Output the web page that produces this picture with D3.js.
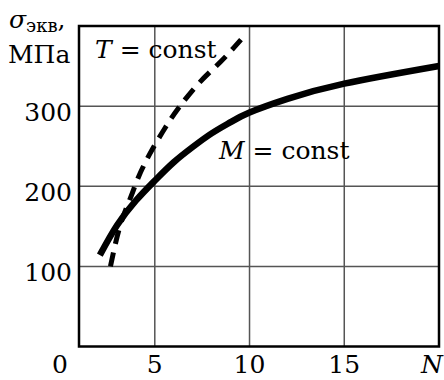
<!DOCTYPE html>
<html>
<head>
<meta charset="utf-8">
<script src="https://cdn.jsdelivr.net/npm/d3@7"></script>
<style>
  body { margin: 0; background: #fff; }
</style>
</head>
<body>
<div id="chart"></div>
<script>
// data
var xTicks = [5, 10, 15];
var yTicks = [100, 200, 300];
var mConstN = [2.1, 3, 4, 5, 6, 7, 8, 9, 10, 12, 15, 20];
var mConstS = [114, 151, 182, 207, 230, 249, 266, 280, 292, 309, 328, 350];
var tConstN = [2.66, 3.16, 3.69, 4.13, 4.75, 5.55, 6.3, 7.38, 8.5, 9.55];
var tConstS = [100, 150, 184, 211, 241, 273, 299, 330, 356, 383];

var serif = "'DejaVu Serif', serif";

drawChart();

function drawChart(){
    var width = 444, height = 380;
    var left = 79, right = 439, top = 26, bottom = 346.5;
    var fs = 25;

    var svg = d3.select("#chart").append("svg")
        .attr("width", width)
        .attr("height", height)
        .attr("font-family", serif);

    var x = d3.scaleLinear().domain([1, 20]).range([left, right]);
    var y = d3.scaleLinear().domain([0, 400]).range([bottom, top]);

    // grid
    var grid = svg.append("g");
    grid.selectAll(".vx")
        .data(xTicks)
        .enter().append("line")
        .attr("x1", d => x(d)).attr("x2", d => x(d))
        .attr("y1", top).attr("y2", bottom)
        .style("stroke", "#555").style("stroke-width", 1.5);
    grid.selectAll(".hy")
        .data(yTicks)
        .enter().append("line")
        .attr("x1", left).attr("x2", right)
        .attr("y1", d => y(d)).attr("y2", d => y(d))
        .style("stroke", "#555").style("stroke-width", 1.5);

    // curves
    var line = d3.line()
        .curve(d3.curveNatural)
        .x(d => x(d[0]))
        .y(d => y(d[1]));

    var mData = mConstN.map((n, i) => [n, mConstS[i]]);
    var tData = tConstN.map((n, i) => [n, tConstS[i]]);

    svg.append("path")
        .attr("d", line(mData))
        .style("fill", "none")
        .style("stroke", "#000")
        .style("stroke-width", 6.5);

    svg.append("path")
        .attr("d", line(tData))
        .style("fill", "none")
        .style("stroke", "#000")
        .style("stroke-width", 5)
        .style("stroke-dasharray", "14,9");

    // frame
    svg.append("rect")
        .attr("x", left).attr("y", top)
        .attr("width", right - left).attr("height", bottom - top)
        .style("fill", "none")
        .style("stroke", "#000")
        .style("stroke-width", 2.5);

    // tick labels
    svg.selectAll(".xl")
        .data([0].concat(xTicks))
        .enter().append("text")
        .attr("x", d => x(d))
        .attr("y", 373)
        .attr("text-anchor", "middle")
        .style("font-size", fs + "px")
        .text(d => d);

    svg.append("text")
        .attr("x", 432).attr("y", 373)
        .attr("text-anchor", "middle")
        .style("font-size", fs + "px")
        .style("font-style", "italic")
        .text("N");

    svg.selectAll(".yl")
        .data(yTicks)
        .enter().append("text")
        .attr("x", 72)
        .attr("y", d => y(d) + 15)
        .attr("text-anchor", "end")
        .style("font-size", fs + "px")
        .text(d => d);

    // y axis title
    var ttl = svg.append("text")
        .attr("x", 9).attr("y", 28)
        .style("font-size", fs + "px");
    ttl.append("tspan").style("font-style", "italic").text("σ");
    ttl.append("tspan").attr("dy", 4).style("font-size", "18px").text("экв");
    ttl.append("tspan").attr("dy", -4).text(",");

    svg.append("text")
        .attr("x", 8).attr("y", 63)
        .style("font-size", fs + "px")
        .text("МПа");

    // curve labels
    var tl = svg.append("text")
        .attr("x", 95).attr("y", 58)
        .style("font-size", fs + "px");
    tl.append("tspan").style("font-style", "italic").text("T");
    tl.append("tspan").text(" = const");

    var ml = svg.append("text")
        .attr("x", 219).attr("y", 159)
        .style("font-size", fs + "px");
    ml.append("tspan").style("font-style", "italic").text("M");
    ml.append("tspan").text(" = const");
}
</script>
</body>
</html>
